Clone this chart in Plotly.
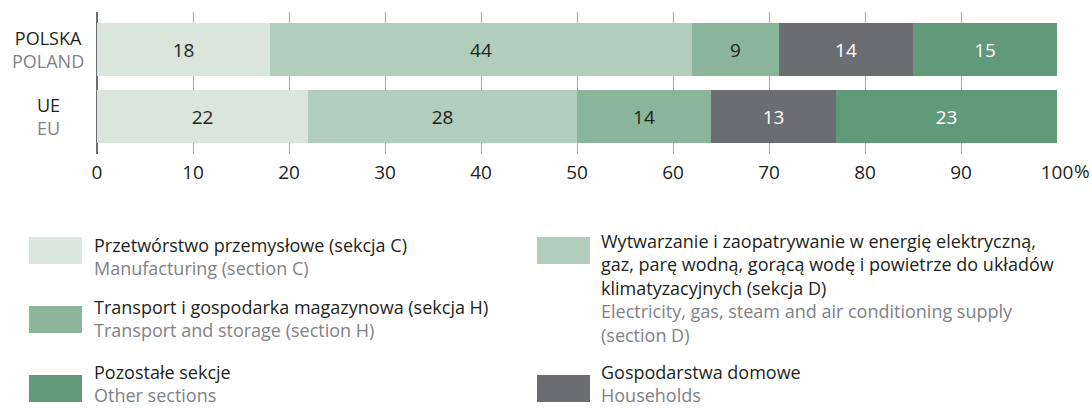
import plotly.graph_objects as go

# Shares of each section, percent
countries_pl = ["POLSKA", "UE"]
countries_en = ["POLAND", "EU"]
manufacturing = [18, 22]
electricity = [44, 28]
transport = [9, 14]
households = [14, 13]
other = [15, 23]

series_values = [manufacturing, electricity, transport, households, other]
series_colors = ["#dae5dc", "#b2cdbc", "#8ab59b", "#6c6d71", "#609a78"]
label_colors = ["#231f20", "#231f20", "#231f20", "#ffffff", "#ffffff"]

legend_pl = [
    "Przetwórstwo przemysłowe (sekcja C)",
    "Wytwarzanie i zaopatrywanie w energię elektryczną,\ngaz, parę wodną, gorącą wodę i powietrze do układów\nklimatyzacyjnych (sekcja D)",
    "Transport i gospodarka magazynowa (sekcja H)",
    "Gospodarstwa domowe",
    "Pozostałe sekcje",
]
legend_en = [
    "Manufacturing (section C)",
    "Electricity, gas, steam and air conditioning supply\n(section D)",
    "Transport and storage (section H)",
    "Households",
    "Other sections",
]

tick_vals = [0, 10, 20, 30, 40, 50, 60, 70, 80, 90, 100]
tick_text = ["0", "10", "20", "30", "40", "50", "60", "70", "80", "90", "100"]

FONT = "Open Sans"
DARK = "#231f20"
GREY = "#808285"
FS = 19        # ticks and bar labels
FS_TXT = 18    # row labels and legend
LINE = 1.3 * FS_TXT  # plotly line spacing for multi-line text

W, H = 1092, 408
ML, MR, MT, MB = 97, 35, 12, 254
PW, PH = W - ML - MR, H - MT - MB


def px_x(x):
    return (x - ML) / PW


def px_y(y):
    return (H - MB - y) / PH


def block(pl_lines, en_lines):
    dark = [t for t in pl_lines]
    grey = [f"<span style='color:{GREY}'>{t}</span>" for t in en_lines]
    return "<br>".join(dark + grey)


row_pos = [1, 0]  # Poland on top, EU below

fig = go.Figure()
for vals, col, tcol in zip(series_values, series_colors, label_colors):
    fig.add_trace(go.Bar(
        x=vals, y=row_pos, orientation="h",
        marker=dict(color=col, line=dict(width=0)),
        width=0.79,
        text=[str(v) for v in vals],
        textposition="inside", insidetextanchor="middle", textangle=0,
        textfont=dict(family=FONT, size=FS, color=tcol),
        hoverinfo="skip", showlegend=False,
    ))

annotations = []
shapes = []

# Row labels, Polish over English, centred left of the bars
row_label_y = [49.5, 116.5]
for pl, en, yc in zip(countries_pl, countries_en, row_label_y):
    annotations.append(dict(x=px_x(48), y=px_y(yc), xref="paper", yref="paper",
                            text=block([pl], [en]), align="center",
                            showarrow=False, xanchor="center", yanchor="middle",
                            font=dict(family=FONT, size=FS_TXT, color=DARK)))

# Percent sign trailing the last tick label
annotations.append(dict(x=px_x(1073), y=px_y(171), xref="paper", yref="paper", text="%",
                        showarrow=False, xanchor="left", yanchor="middle", borderpad=0,
                        font=dict(family=FONT, size=FS, color=DARK)))

# Custom two-column legend: swatch box and text block per entry
legend_layout = [
    # (swatch x0, swatch y0, text x, first line y)
    (29, 237, 93, 245),
    (537, 237, 600, 241),
    (29, 306, 93, 307),
    (537, 375, 600, 372),
    (29, 375, 93, 372),
]
for i, (sx, sy, tx, ty) in enumerate(legend_layout):
    shapes.append(dict(type="rect", xref="paper", yref="paper",
                       x0=px_x(sx), x1=px_x(sx + 53), y0=px_y(sy), y1=px_y(sy + 27),
                       fillcolor=series_colors[i], line=dict(width=0), layer="above"))
    pl_lines = legend_pl[i].split("\n")
    en_lines = legend_en[i].split("\n")
    n = len(pl_lines) + len(en_lines)
    yc = ty + (n - 1) * LINE / 2
    annotations.append(dict(x=px_x(tx), y=px_y(yc), xref="paper", yref="paper",
                            text=block(pl_lines, en_lines), align="left",
                            showarrow=False, xanchor="left", yanchor="middle",
                            borderpad=0,
                            font=dict(family=FONT, size=FS_TXT, color=DARK)))

fig.update_layout(
    width=W, height=H,
    margin=dict(l=ML, r=MR, t=MT, b=MB),
    barmode="stack", bargap=0,
    plot_bgcolor="white", paper_bgcolor="white",
    font=dict(family=FONT, size=FS, color=DARK),
    annotations=annotations, shapes=shapes,
    showlegend=False,
)
fig.update_xaxes(range=[0, 100], tickvals=tick_vals, ticktext=tick_text,
                 showgrid=True, gridcolor="#a7a9ac", gridwidth=1,
                 zeroline=True, zerolinecolor="#6d6e71", zerolinewidth=1.5,
                 ticks="outside", ticklen=1, tickcolor="rgba(0,0,0,0)",
                 tickfont=dict(family=FONT, size=FS, color=DARK),
                 showline=False, fixedrange=True)
fig.update_yaxes(range=[-0.563, 1.557], showticklabels=False, showgrid=False,
                 zeroline=False, showline=False, fixedrange=True)

fig.write_html("out.html")
